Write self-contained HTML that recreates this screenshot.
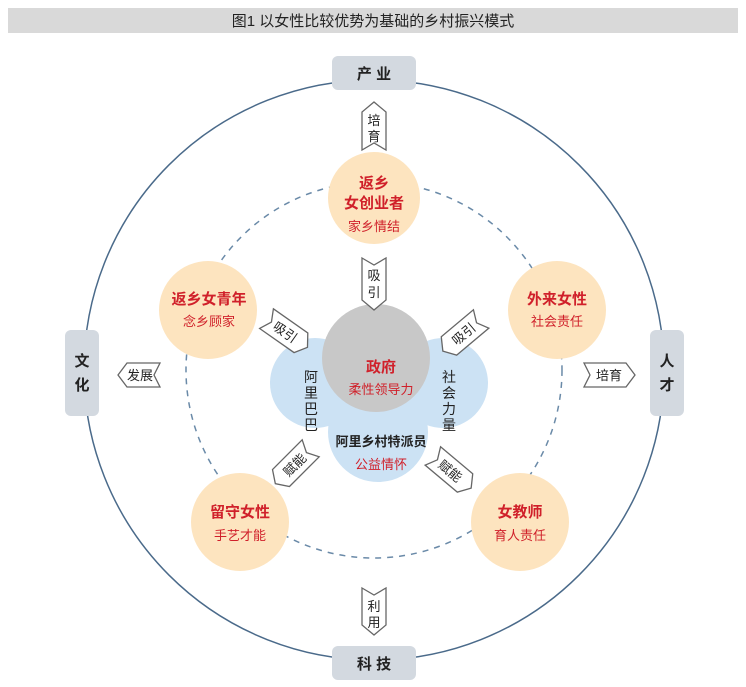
<!DOCTYPE html>
<html><head><meta charset="utf-8"><style>
body{margin:0;background:#fff;}
svg{display:block;font-family:"Liberation Sans","Noto Sans CJK SC",sans-serif;}
</style></head><body>
<svg width="746" height="687" viewBox="0 0 746 687">
<rect x="8" y="8" width="730" height="25" fill="#d9d9d9"/>
<text x="373" y="26" text-anchor="middle" font-size="15" fill="#222">图1  以女性比较优势为基础的乡村振兴模式</text>
<circle cx="374" cy="370" r="290" fill="none" stroke="#4a6a8a" stroke-width="1.5"/>
<circle cx="374" cy="370" r="188" fill="none" stroke="#6a8aa8" stroke-width="1.5" stroke-dasharray="6,6"/>
<rect x="332" y="56" width="84" height="34" rx="6" fill="#d3d9e0"/>
<text x="374" y="79" text-anchor="middle" font-size="15" font-weight="bold" fill="#222">产 业</text>
<rect x="332" y="646" width="84" height="34" rx="6" fill="#d3d9e0"/>
<text x="374" y="669" text-anchor="middle" font-size="15" font-weight="bold" fill="#222">科 技</text>
<rect x="65" y="330" width="34" height="86" rx="6" fill="#d3d9e0"/>
<text x="82" y="366" text-anchor="middle" font-size="15" font-weight="bold" fill="#222">文</text>
<text x="82" y="390" text-anchor="middle" font-size="15" font-weight="bold" fill="#222">化</text>
<rect x="650" y="330" width="34" height="86" rx="6" fill="#d3d9e0"/>
<text x="667" y="366" text-anchor="middle" font-size="15" font-weight="bold" fill="#222">人</text>
<text x="667" y="390" text-anchor="middle" font-size="15" font-weight="bold" fill="#222">才</text>
<circle cx="315" cy="383" r="45" fill="#cce2f4"/>
<circle cx="443" cy="383" r="45" fill="#cce2f4"/>
<circle cx="378" cy="432" r="50" fill="#cce2f4"/>
<circle cx="376" cy="358" r="54" fill="#c8c8c8"/>
<text x="381" y="372" text-anchor="middle" font-size="15" font-weight="bold" fill="#d0202a">政府</text>
<text x="381" y="394" text-anchor="middle" font-size="13" fill="#d0202a">柔性领导力</text>
<g font-size="14" fill="#222" text-anchor="middle">
<text x="311" y="382">阿</text><text x="311" y="398">里</text><text x="311" y="414">巴</text><text x="311" y="430">巴</text>
<text x="449" y="382">社</text><text x="449" y="398">会</text><text x="449" y="414">力</text><text x="449" y="430">量</text>
</g>
<text x="381" y="446" text-anchor="middle" font-size="13" font-weight="bold" fill="#222">阿里乡村特派员</text>
<text x="381" y="469" text-anchor="middle" font-size="13" fill="#d0202a">公益情怀</text>
<g fill="#fde4bf">
<circle cx="374" cy="198" r="46"/>
<circle cx="208" cy="310" r="49"/>
<circle cx="557" cy="310" r="49"/>
<circle cx="240" cy="522" r="49"/>
<circle cx="520" cy="522" r="49"/>
</g>
<g text-anchor="middle" fill="#d0202a">
<text x="374" y="188" font-size="15" font-weight="bold">返乡</text>
<text x="374" y="208" font-size="15" font-weight="bold">女创业者</text>
<text x="374" y="231" font-size="13">家乡情结</text>
<text x="209" y="304" font-size="15" font-weight="bold">返乡女青年</text>
<text x="209" y="326" font-size="13">念乡顾家</text>
<text x="557" y="304" font-size="15" font-weight="bold">外来女性</text>
<text x="557" y="326" font-size="13">社会责任</text>
<text x="240" y="517" font-size="15" font-weight="bold">留守女性</text>
<text x="240" y="540" font-size="13">手艺才能</text>
<text x="520" y="517" font-size="15" font-weight="bold">女教师</text>
<text x="520" y="540" font-size="13">育人责任</text>
</g>
<g fill="#fff" stroke="#666" stroke-width="1.3">
<polygon points="362,150 362,112 374,102 386,112 386,150 374,143" />
<polygon points="362,258 374,265 386,258 386,300 374,310 362,300"/>
<polygon points="362,588 374,595 386,588 386,625 374,635 362,625"/>
<polygon points="118,375 127,363 160,363 154,375 160,387 127,387"/>
<polygon points="584,363 626,363 635,375 626,387 584,387 590,375"/>
</g>
<g font-size="13" fill="#222" text-anchor="middle">
<text x="374" y="125">培</text><text x="374" y="141">育</text>
<text x="374" y="280">吸</text><text x="374" y="297">引</text>
<text x="374" y="611">利</text><text x="374" y="627">用</text>
<text x="140" y="380">发展</text>
<text x="609" y="380">培育</text>
</g>
<g transform="translate(287,333) rotate(35)">
<polygon points="-25,-12 17,-12 25,0 17,12 -25,12 -19,0" fill="#fff" stroke="#666" stroke-width="1.3"/>
<text x="-2" y="5" font-size="13" text-anchor="middle" fill="#222">吸引</text>
</g>
<g transform="translate(462,335) rotate(-40)">
<polygon points="-25,0 -17,-12 25,-12 19,0 25,12 -17,12" fill="#fff" stroke="#666" stroke-width="1.3"/>
<text x="2" y="5" font-size="13" text-anchor="middle" fill="#222">吸引</text>
</g>
<g transform="translate(293,466) rotate(-45)">
<polygon points="-25,0 -17,-12 25,-12 19,0 25,12 -17,12" fill="#fff" stroke="#666" stroke-width="1.3"/>
<text x="2" y="5" font-size="13" text-anchor="middle" fill="#222">赋能</text>
</g>
<g transform="translate(452,472) rotate(40)">
<polygon points="-25,-12 17,-12 25,0 17,12 -25,12 -19,0" fill="#fff" stroke="#666" stroke-width="1.3"/>
<text x="-2" y="5" font-size="13" text-anchor="middle" fill="#222">赋能</text>
</g>
</svg>
</body></html>
